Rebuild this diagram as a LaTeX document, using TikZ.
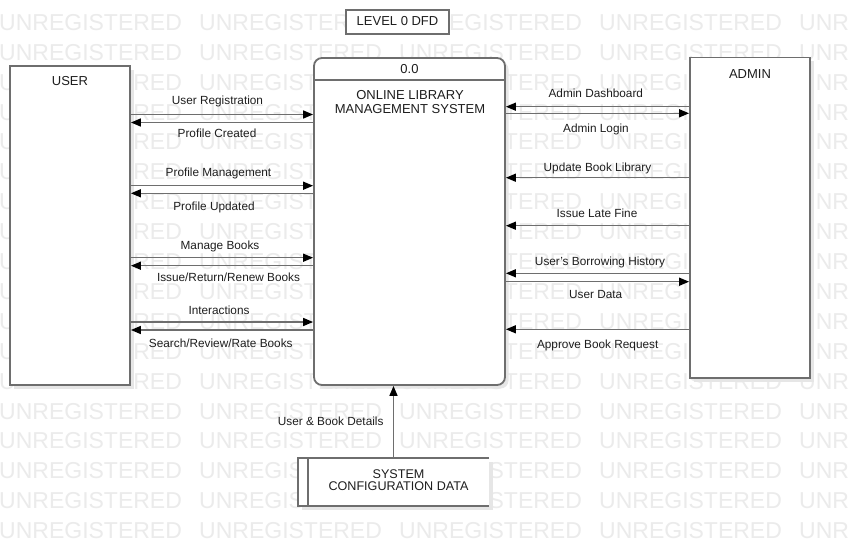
\documentclass[tikz,border=0pt]{standalone}
\usepackage{fontspec}
\setmainfont{Liberation Sans}
\usetikzlibrary{arrows.meta,calc}
\definecolor{wm}{HTML}{EBEBEB}
\definecolor{ln}{HTML}{6E6E6E}
\definecolor{tx}{HTML}{1E1E1E}
\definecolor{shd}{HTML}{E6E6E6}
\tikzset{
  shadowed/.style={preaction={fill=shd, transform canvas={xshift=3.5pt,yshift=-3.5pt}}},
  box/.style={draw=ln, line width=1.8pt, fill=white, inner sep=0pt},
  flow/.style={draw=ln, line width=1.5pt, -{Triangle[length=10pt,width=8pt,color=black]}},
  lbl/.style={text=tx, font=\fontsize{11.8}{13}\selectfont, inner sep=0pt, anchor=base},
  ttl/.style={text=tx, font=\fontsize{13}{13.2}\selectfont, inner sep=0pt, align=center},
  wmk/.style={text=wm, font=\fontsize{23}{23}\selectfont, inner sep=0pt, anchor=base west},
}
\begin{document}
\begin{tikzpicture}[x=1pt,y=-1pt]
\useasboundingbox (0,0) rectangle (850,546);
\fill[white] (0,0) rectangle (850,546);
% watermark
\foreach \r in {0,...,17}{
  \foreach \c in {0,...,4}{
    \node[wmk] (wm-\r-\c) at ({200*\c-1},{30.3+29.9*\r}) {UNREGISTERED};
  }
}
% title
\node[box, line width=1.6pt, minimum width=103pt, minimum height=24pt] (title) at (397.5,22) {};
\node[ttl] (titleT) at (397.5,21) {LEVEL 0 DFD};
% user
\node[box, shadowed, minimum width=120pt, minimum height=319pt] (user) at (70,225.5) {};
\node[ttl] (userT) at (70,81.3) {USER};
% process
\node[box, shadowed, rounded corners=8pt, minimum width=191pt, minimum height=327pt] (proc) at (409.5,221.5) {};
\draw[draw=ln, line width=1.6pt] (proc.west |- 0,80) -- (proc.east |- 0,80);
\node[ttl] (procN) at (409.5,69.5) {0.0};
\node[ttl] (procT) at (410,102) {ONLINE LIBRARY\\MANAGEMENT SYSTEM};
% admin
\node[box, shadowed, minimum width=120pt, minimum height=320.5pt] (admin) at (750,217.75) {};
\node[ttl] (adminT) at (750,73.7) {ADMIN};
% data store
\node[fill=white, shadowed, inner sep=0pt, minimum width=191pt, minimum height=48pt] (store) at (393.5,482) {};
\draw[draw=ln, line width=1.6pt] (store.north east) -- (store.north west) -- (store.south west) -- (store.south east);
\draw[draw=ln, line width=1.6pt] ($(store.north west)+(10,0)$) -- ($(store.south west)+(10,0)$);
\node[ttl, font=\fontsize{12.6}{12.4}\selectfont] (storeT) at (398.5,480) {SYSTEM\\CONFIGURATION DATA};
% store -> process
\draw[flow] (store.north) -- (store.north |- proc.south);
\node[lbl] (lsb) at (330.7,425.8) {User \& Book Details};
% user side flows
\draw[flow] (user.east |- 0,114.5) -- (proc.west |- 0,114.5);
\draw[flow] (proc.west |- 0,122.5) -- (user.east |- 0,122.5);
\draw[flow] (user.east |- 0,185.7) -- (proc.west |- 0,185.7);
\draw[flow] (proc.west |- 0,193.3) -- (user.east |- 0,193.3);
\draw[flow] (user.east |- 0,257.7) -- (proc.west |- 0,257.7);
\draw[flow] (proc.west |- 0,265.7) -- (user.east |- 0,265.7);
\draw[flow] (user.east |- 0,322) -- (proc.west |- 0,322);
\draw[flow] (proc.west |- 0,330) -- (user.east |- 0,330);
\node[lbl] (l1) at (217.5,104.3) {User Registration};
\node[lbl] (l2) at (217,137.3) {Profile Created};
\node[lbl] (l3) at (218.5,176.3) {Profile Management};
\node[lbl] (l4) at (214,210) {Profile Updated};
\node[lbl] (l5) at (220,249.3) {Manage Books};
\node[lbl] (l6) at (228.5,281) {Issue/Return/Renew Books};
\node[lbl] (l7) at (219,314.3) {Interactions};
\node[lbl] (l8) at (220.8,347.3) {Search/Review/Rate Books};
% admin side flows
\draw[flow] (admin.west |- 0,106.7) -- (proc.east |- 0,106.7);
\draw[flow] (proc.east |- 0,113.3) -- (admin.west |- 0,113.3);
\draw[flow] (admin.west |- 0,177.7) -- (proc.east |- 0,177.7);
\draw[flow] (admin.west |- 0,225.7) -- (proc.east |- 0,225.7);
\draw[flow] (admin.west |- 0,273.3) -- (proc.east |- 0,273.3);
\draw[flow] (proc.east |- 0,281.7) -- (admin.west |- 0,281.7);
\draw[flow] (admin.west |- 0,329.3) -- (proc.east |- 0,329.3);
\node[lbl] (a1) at (595.8,97.6) {Admin Dashboard};
\node[lbl] (a2) at (596,132) {Admin Login};
\node[lbl] (a3) at (597.5,171) {Update Book Library};
\node[lbl] (a4) at (597,217) {Issue Late Fine};
\node[lbl] (a5) at (600,265) {User's Borrowing History};
\node[lbl] (a6) at (595.7,298.6) {User Data};
\node[lbl] (a7) at (597.7,348.3) {Approve Book Request};
\end{tikzpicture}
\end{document}
